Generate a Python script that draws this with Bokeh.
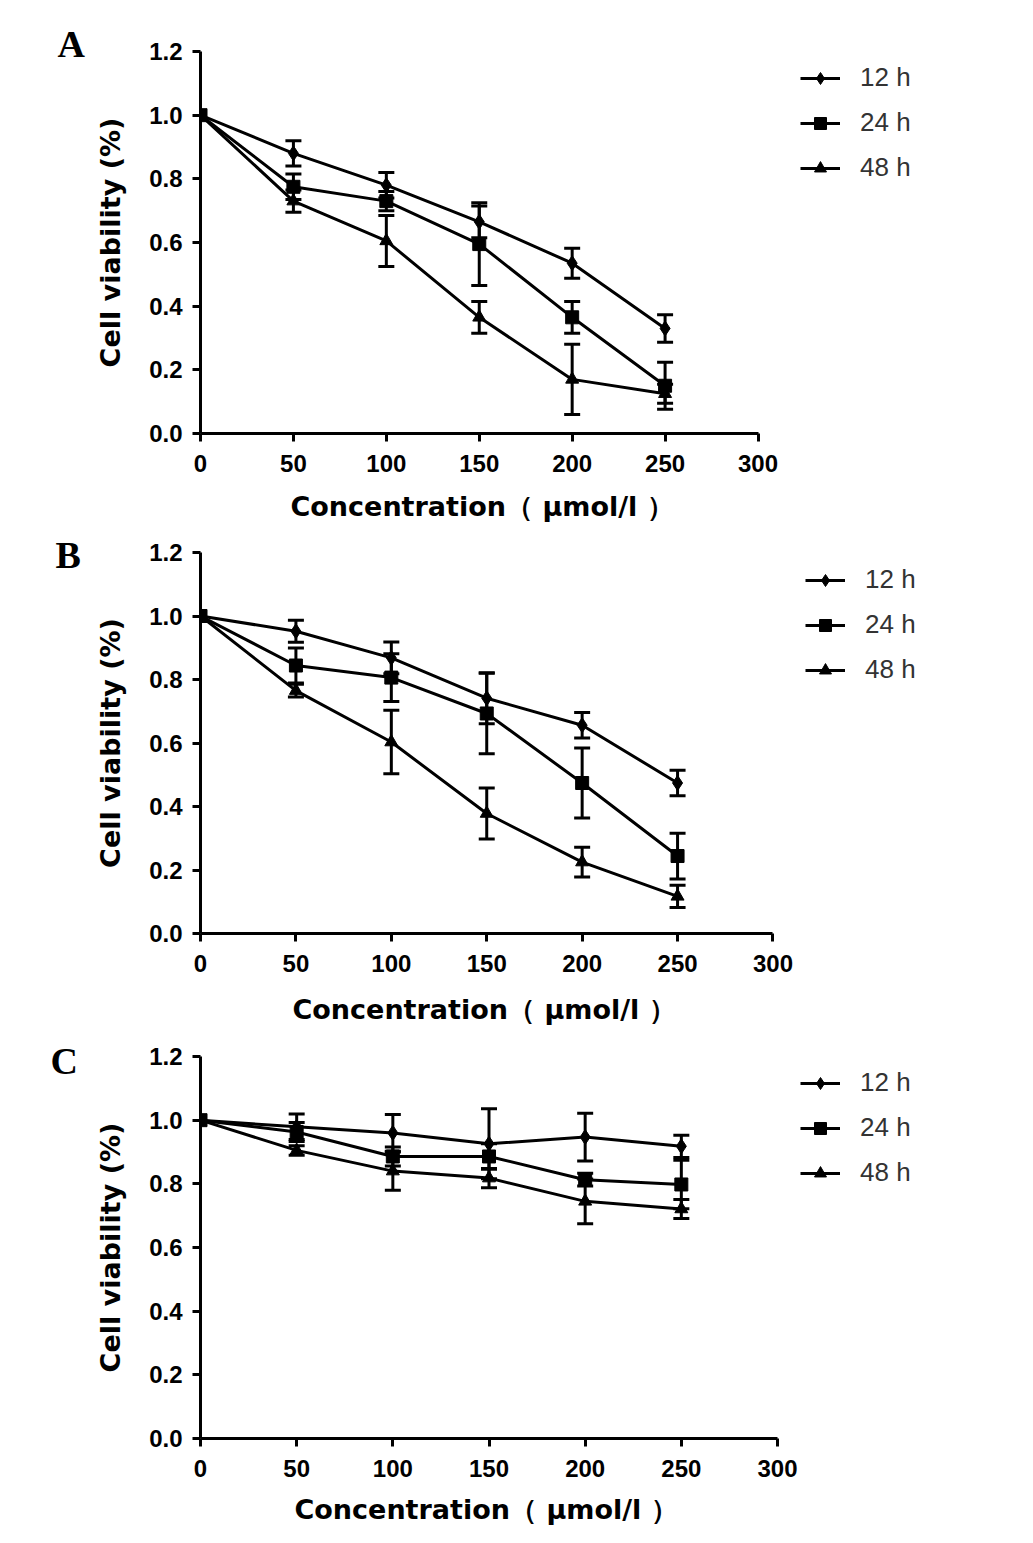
from bokeh.plotting import figure
from bokeh.layouts import column
from bokeh.models import (
    ColumnDataSource,
    Range1d,
    FixedTicker,
    PrintfTickFormatter,
    Whisker,
    TeeHead,
    Legend,
    Title,
)
from bokeh.embed import file_html
from bokeh.resources import INLINE

# concentrations (umol/l)
conc = [0, 50, 100, 150, 200, 250]
series_names = ["12 h", "24 h", "48 h"]
x_ticks = [0, 50, 100, 150, 200, 250, 300]
y_ticks = [0.0, 0.2, 0.4, 0.6, 0.8, 1.0, 1.2]

# panel A
a_12h = [1.0, 0.88, 0.78, 0.665, 0.535, 0.33]
a_12h_err = [0, 0.04, 0.04, 0.05, 0.047, 0.043]
a_24h = [1.0, 0.775, 0.73, 0.595, 0.365, 0.15]
a_24h_err = [0, 0.04, 0.03, 0.13, 0.05, 0.074]
a_48h = [1.0, 0.73, 0.605, 0.365, 0.17, 0.125]
a_48h_err = [0, 0.035, 0.08, 0.05, 0.11, 0.03]

# panel B
b_12h = [1.0, 0.952, 0.868, 0.741, 0.656, 0.474]
b_12h_err = [0, 0.035, 0.05, 0.08, 0.04, 0.04]
b_24h = [1.0, 0.844, 0.806, 0.693, 0.474, 0.244]
b_24h_err = [0, 0.055, 0.075, 0.127, 0.11, 0.072]
b_48h = [1.0, 0.765, 0.603, 0.378, 0.225, 0.117]
b_48h_err = [0, 0.02, 0.1, 0.08, 0.047, 0.035]

# panel C
c_12h = [1.0, 0.979, 0.96, 0.926, 0.947, 0.918]
c_12h_err = [0, 0.04, 0.058, 0.11, 0.075, 0.035]
c_24h = [1.0, 0.963, 0.886, 0.886, 0.813, 0.798]
c_24h_err = [0, 0.03, 0.03, 0.04, 0.02, 0.076]
c_48h = [1.0, 0.905, 0.84, 0.818, 0.745, 0.721]
c_48h_err = [0, 0.015, 0.06, 0.03, 0.07, 0.03]

markers = ["diamond", "square", "triangle"]
marker_sizes = [15, 13, 13]

W = 1017
X_LABEL = "Concentration（ μmol/l ）"
Y_LABEL = "Cell viability (%)"


def make_panel(letter, values, errors, height, border_left, border_top, border_bottom,
               px_per_unit, letter_cfg, xlabel_cfg, legend_pos):
    frame_w = W - border_left - 5
    p = figure(
        width=W,
        height=height,
        x_range=Range1d(0, frame_w / px_per_unit),
        y_range=Range1d(0, 1.2),
        output_backend="svg",
        toolbar_location=None,
        tools="",
        min_border_left=border_left,
        min_border_top=border_top,
        min_border_right=5,
        min_border_bottom=border_bottom,
    )
    p.xgrid.grid_line_color = None
    p.ygrid.grid_line_color = None
    p.outline_line_color = None

    items = []
    for i, name in enumerate(series_names):
        src = ColumnDataSource(dict(x=conc, y=values[i]))
        ln = p.line("x", "y", source=src, line_color="black", line_width=3)
        sc = p.scatter("x", "y", source=src, marker=markers[i], size=marker_sizes[i],
                       fill_color="black", line_color="black")
        err_src = ColumnDataSource(dict(
            x=conc[1:],
            upper=[v + e for v, e in zip(values[i][1:], errors[i][1:])],
            lower=[v - e for v, e in zip(values[i][1:], errors[i][1:])],
        ))
        wh = Whisker(
            base="x", upper="upper", lower="lower", source=err_src,
            line_color="black", line_width=3,
            upper_head=TeeHead(size=16, line_width=3, line_color="black"),
            lower_head=TeeHead(size=16, line_width=3, line_color="black"),
        )
        p.add_layout(wh)
        items.append((name, [ln, sc]))

    legend = Legend(
        items=items,
        location=legend_pos,
        glyph_width=40,
        glyph_height=30,
        label_height=30,
        spacing=14,
        padding=0,
        margin=0,
        label_standoff=20,
        label_text_font="Liberation Sans",
        label_text_font_size="26px",
        label_text_color="#333333",
        border_line_color=None,
        background_fill_alpha=0,
    )
    p.add_layout(legend)

    # axes
    p.xaxis.ticker = FixedTicker(ticks=x_ticks)
    p.xaxis.bounds = (0, 300)
    p.yaxis.ticker = FixedTicker(ticks=y_ticks)
    p.yaxis.formatter = PrintfTickFormatter(format="%.1f")
    for ax in [p.xaxis, p.yaxis]:
        ax.axis_line_width = 3
        ax.major_tick_line_width = 3
        ax.major_tick_out = 8
        ax.major_tick_in = 0
        ax.minor_tick_line_color = None
        ax.major_label_text_font = "Liberation Sans"
        ax.major_label_text_font_style = "bold"
        ax.major_label_text_font_size = "24px"
        ax.major_label_text_color = "black"
    p.xaxis.major_label_standoff = 13
    p.yaxis.major_label_standoff = 10
    p.yaxis.axis_label = Y_LABEL
    p.yaxis.axis_label_text_font = "DejaVu Sans"
    p.yaxis.axis_label_text_font_style = "bold"
    p.yaxis.axis_label_text_font_size = "27px"
    p.yaxis.axis_label_text_color = "black"
    p.yaxis.axis_label_standoff = 20

    # x axis title, left aligned under the 0-300 span
    p.add_layout(Title(
        text=X_LABEL, align="left", offset=xlabel_cfg[0], standoff=xlabel_cfg[1],
        text_font="DejaVu Sans", text_font_style="bold",
        text_font_size="27px", text_color="black",
    ), "below")

    # panel letter
    p.add_layout(Title(
        text=letter, align="left", offset=letter_cfg[0], standoff=letter_cfg[1],
        vertical_align="bottom",
        text_font="Liberation Serif", text_font_style="bold",
        text_font_size="38px", text_color="black",
    ), "above")
    return p


pa = make_panel("A", [a_12h, a_24h, a_48h], [a_12h_err, a_24h_err, a_48h_err],
                535, 192, 51, 100, 563 / 300, (-143, -26), (90, 28), (600, 250))
pb = make_panel("B", [b_12h, b_24h, b_48h], [b_12h_err, b_24h_err, b_48h_err],
                506, 195, 17, 106, 576 / 300, (-145, -46), (92, 34), (605, 248))
pc = make_panel("C", [c_12h, c_24h, c_48h], [c_12h_err, c_24h_err, c_48h_err],
                495, 200, 15, 96, 577 / 300, (-150, -50), (94, 24), (600, 250))

layout = column(pa, pb, pc, spacing=0)

open("out.html", "w").write(file_html(layout, INLINE))
